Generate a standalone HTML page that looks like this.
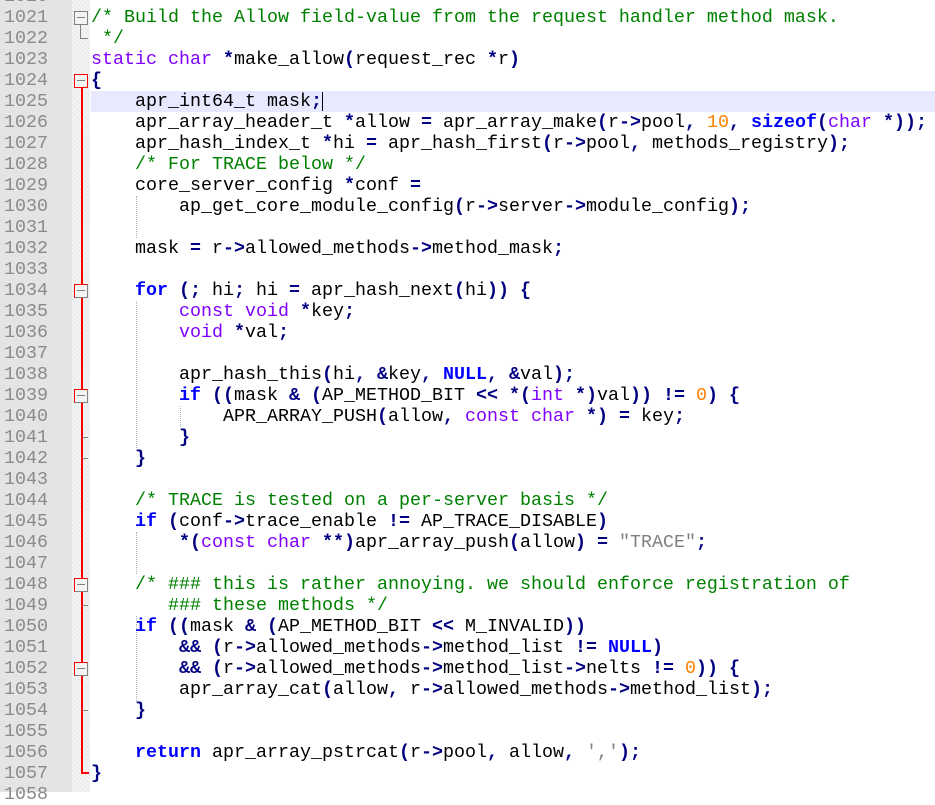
<!DOCTYPE html>
<html><head><meta charset="utf-8"><style>
body{margin:0;width:935px;height:792px;overflow:hidden;background:#fff;position:relative;font-family:"Liberation Mono",monospace;}
.g{position:absolute;left:0;top:0;width:72px;height:792px;background:#e4e4e4;}
.f{position:absolute;left:72px;top:0;width:18px;height:792px;background-color:#f4f4f4;background-image:repeating-linear-gradient(45deg,#e8e8e8 0 1px,transparent 1px 3px);}
pre{margin:0;position:absolute;font-family:"Liberation Mono",monospace;font-size:18.33px;line-height:21px;}
.nums{left:4px;top:-14px;color:#8a8a8a;text-align:right;width:44px;}
.code{left:91px;top:-14px;color:#000;}
.k{color:#0000ff;font-weight:bold}
.t{color:#8000ff}
.o{color:#000080;font-weight:bold}
.c{color:#008000}
.n{color:#ff8000}
.s{color:#808080}
.hl{position:absolute;left:91px;top:91px;width:844px;height:21px;background:#e8e8ff;}
.vl{position:absolute;width:0;border-left:1px dotted #b0b0b0;}
.rl{position:absolute;left:81px;width:2px;background:#f00;}
.box{position:absolute;left:74px;width:14px;height:14px;background:#f4f4f4;border:1px solid #808080;box-sizing:border-box;}
.box:after{content:"";position:absolute;left:2px;right:2px;top:5px;height:1px;background:#808080;}
.rb{border-color:#f00 #808080 #808080 #f00;}
.bx0{border-color:#f00;}
.tk{position:absolute;left:82px;width:6px;height:1px;background:#808080;}
</style></head><body>
<div class="g"></div><div class="f"></div>
<div class="hl"></div>
<div style="position:absolute;left:322px;top:92px;width:1px;height:19px;background:#000"></div>
<div class="box" style="top:11px"></div>
<div style="position:absolute;left:80px;top:25px;width:1px;height:14px;background:#808080"></div>
<div style="position:absolute;left:80px;top:38px;width:8px;height:1px;background:#808080"></div>
<div class="rl" style="top:86px;height:687px"></div>
<div style="position:absolute;left:81px;top:772px;width:8px;height:2px;background:#f00"></div>
<div class="box bx0" style="top:74px"></div>
<div class="box rb" style="top:284px"></div>
<div class="box rb" style="top:389px"></div>
<div class="tk" style="top:437px"></div>
<div class="tk" style="top:458px"></div>
<div class="box rb" style="top:578px"></div>
<div class="tk" style="top:605px"></div>
<div class="box rb" style="top:662px"></div>
<div class="tk" style="top:710px"></div>
<div class="vl" style="left:136px;top:196px;height:42px"></div>
<div class="vl" style="left:136px;top:301px;height:147px"></div>
<div class="vl" style="left:180px;top:406px;height:21px"></div>
<div class="vl" style="left:136px;top:532px;height:42px"></div>
<div class="vl" style="left:136px;top:616px;height:85px"></div>
<pre class="nums">1020
1021
1022
1023
1024
1025
1026
1027
1028
1029
1030
1031
1032
1033
1034
1035
1036
1037
1038
1039
1040
1041
1042
1043
1044
1045
1046
1047
1048
1049
1050
1051
1052
1053
1054
1055
1056
1057
1058</pre>
<pre class="code">

<span class="c">/* Build the Allow field-value from the request handler method mask.</span>
<span class="c"> */</span>
<span class="t">static</span> <span class="t">char</span> <span class="o">*</span>make_allow<span class="o">(</span>request_rec <span class="o">*</span>r<span class="o">)</span>
<span class="o">{</span>
    apr_int64_t mask<span class="o">;</span>
    apr_array_header_t <span class="o">*</span>allow <span class="o">=</span> apr_array_make<span class="o">(</span>r<span class="o">-&gt;</span>pool<span class="o">,</span> <span class="n">10</span><span class="o">,</span> <span class="k">sizeof</span><span class="o">(</span><span class="t">char</span> <span class="o">*));</span>
    apr_hash_index_t <span class="o">*</span>hi <span class="o">=</span> apr_hash_first<span class="o">(</span>r<span class="o">-&gt;</span>pool<span class="o">,</span> methods_registry<span class="o">);</span>
    <span class="c">/* For TRACE below */</span>
    core_server_config <span class="o">*</span>conf <span class="o">=</span>
        ap_get_core_module_config<span class="o">(</span>r<span class="o">-&gt;</span>server<span class="o">-&gt;</span>module_config<span class="o">);</span>

    mask <span class="o">=</span> r<span class="o">-&gt;</span>allowed_methods<span class="o">-&gt;</span>method_mask<span class="o">;</span>

    <span class="k">for</span> <span class="o">(;</span> hi<span class="o">;</span> hi <span class="o">=</span> apr_hash_next<span class="o">(</span>hi<span class="o">))</span> <span class="o">{</span>
        <span class="t">const</span> <span class="t">void</span> <span class="o">*</span>key<span class="o">;</span>
        <span class="t">void</span> <span class="o">*</span>val<span class="o">;</span>

        apr_hash_this<span class="o">(</span>hi<span class="o">,</span> <span class="o">&amp;</span>key<span class="o">,</span> <span class="k">NULL</span><span class="o">,</span> <span class="o">&amp;</span>val<span class="o">);</span>
        <span class="k">if</span> <span class="o">((</span>mask <span class="o">&amp;</span> <span class="o">(</span>AP_METHOD_BIT <span class="o">&lt;&lt;</span> <span class="o">*(</span><span class="t">int</span> <span class="o">*)</span>val<span class="o">))</span> <span class="o">!=</span> <span class="n">0</span><span class="o">)</span> <span class="o">{</span>
            APR_ARRAY_PUSH<span class="o">(</span>allow<span class="o">,</span> <span class="t">const</span> <span class="t">char</span> <span class="o">*)</span> <span class="o">=</span> key<span class="o">;</span>
        <span class="o">}</span>
    <span class="o">}</span>

    <span class="c">/* TRACE is tested on a per-server basis */</span>
    <span class="k">if</span> <span class="o">(</span>conf<span class="o">-&gt;</span>trace_enable <span class="o">!=</span> AP_TRACE_DISABLE<span class="o">)</span>
        <span class="o">*(</span><span class="t">const</span> <span class="t">char</span> <span class="o">**)</span>apr_array_push<span class="o">(</span>allow<span class="o">)</span> <span class="o">=</span> <span class="s">"TRACE"</span><span class="o">;</span>

    <span class="c">/* ### this is rather annoying. we should enforce registration of</span>
<span class="c">       ### these methods */</span>
    <span class="k">if</span> <span class="o">((</span>mask <span class="o">&amp;</span> <span class="o">(</span>AP_METHOD_BIT <span class="o">&lt;&lt;</span> M_INVALID<span class="o">))</span>
        <span class="o">&amp;&amp;</span> <span class="o">(</span>r<span class="o">-&gt;</span>allowed_methods<span class="o">-&gt;</span>method_list <span class="o">!=</span> <span class="k">NULL</span><span class="o">)</span>
        <span class="o">&amp;&amp;</span> <span class="o">(</span>r<span class="o">-&gt;</span>allowed_methods<span class="o">-&gt;</span>method_list<span class="o">-&gt;</span>nelts <span class="o">!=</span> <span class="n">0</span><span class="o">))</span> <span class="o">{</span>
        apr_array_cat<span class="o">(</span>allow<span class="o">,</span> r<span class="o">-&gt;</span>allowed_methods<span class="o">-&gt;</span>method_list<span class="o">);</span>
    <span class="o">}</span>

    <span class="k">return</span> apr_array_pstrcat<span class="o">(</span>r<span class="o">-&gt;</span>pool<span class="o">,</span> allow<span class="o">,</span> <span class="s">','</span><span class="o">);</span>
<span class="o">}</span>
</pre>
</body></html>
